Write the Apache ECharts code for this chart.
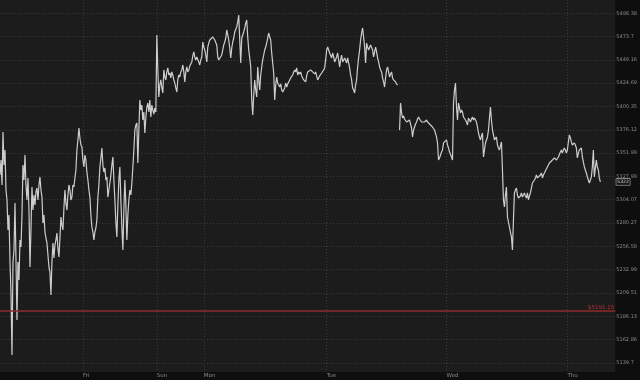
<!DOCTYPE html>
<html><head><meta charset="utf-8">
<script src="https://cdn.jsdelivr.net/npm/echarts@6/dist/echarts.min.js"></script>
<style>html,body{margin:0;padding:0;background:#0e0e0e}#c{width:640px;height:380px}</style>
</head><body><div id="c"></div>
<script>
// price per bar (one bar per sample), null = session gap
const prices = [
5329.4,5344.9,5319.2,5373.9,5339.7,5355.2,5314.0,5303.8,5273.2,5288.4,
5240.7,5209.4,5147.5,5240.7,5252.8,5300.7,5242.7,5182.3,5240.7,5222.5,
5263.0,5255.9,5288.4,5339.7,5324.3,5350.0,5319.2,5303.8,5326.4,5293.5,
5235.6,5273.2,5317.1,5293.5,5308.9,5298.6,5312.0,5316.1,5303.8,5319.2,
5327.4,5314.0,5306.8,5280.3,5288.4,5271.1,5265.0,5260.0,5247.8,5235.6,
5230.6,5207.4,5240.7,5260.0,5244.7,5257.9,5263.0,5270.1,5254.9,5245.8,
5265.0,5286.4,5278.3,5273.2,5295.6,5314.0,5300.7,5293.5,5308.9,5319.2,
5314.0,5303.8,5306.8,5319.2,5317.1,5326.4,5334.6,5355.2,5365.6,5378.0,
5367.6,5360.4,5358.3,5344.9,5337.7,5350.0,5344.9,5332.5,5324.3,5314.0,
5306.8,5288.4,5276.2,5271.1,5263.0,5271.1,5275.2,5283.3,5306.8,5319.2,
5337.7,5347.0,5357.3,5339.7,5332.5,5336.7,5324.3,5327.4,5306.8,5314.0,
5321.2,5329.4,5339.7,5348.0,5324.3,5303.8,5281.3,5266.1,5298.6,5324.3,
5337.7,5303.8,5276.2,5252.8,5293.5,5324.3,5298.6,5263.0,5288.4,5303.8,
5314.0,5308.9,5321.2,5337.7,5355.2,5375.9,5381.1,5383.2,5341.8,5375.9,
5407.1,5396.7,5401.9,5386.3,5394.6,5372.8,5388.4,5399.8,5404.0,5394.6,
5407.1,5389.4,5401.9,5396.7,5392.5,5398.8,5394.6,5475.4,5438.6,5410.3,
5422.8,5428.1,5419.7,5414.5,5438.6,5431.2,5428.1,5436.5,5440.7,5433.3,
5435.4,5430.2,5436.5,5433.3,5428.1,5424.9,5419.7,5415.5,5428.1,5433.3,
5431.2,5436.5,5438.6,5443.8,5436.5,5426.0,5436.5,5441.7,5436.5,5438.6,
5442.8,5444.9,5447.0,5453.3,5457.5,5452.2,5449.1,5452.2,5451.2,5447.0,
5443.8,5449.1,5452.2,5468.0,5462.7,5459.6,5454.3,5447.0,5462.7,5466.9,
5470.1,5472.2,5470.1,5473.3,5472.2,5470.1,5468.0,5464.9,5452.2,5449.1,
5447.0,5451.2,5454.3,5459.6,5464.9,5468.0,5472.2,5480.7,5475.4,5470.1,
5461.7,5451.2,5461.7,5468.0,5472.2,5478.6,5480.7,5483.9,5489.2,5496.6,
5470.1,5445.9,5472.2,5475.4,5478.6,5482.8,5488.1,5491.3,5473.3,5459.6,
5451.2,5441.7,5407.1,5391.5,5412.4,5428.1,5417.6,5410.3,5441.7,5428.1,
5417.6,5433.3,5441.7,5449.1,5454.3,5459.6,5462.7,5466.9,5472.2,5477.5,
5473.3,5470.1,5456.4,5445.9,5435.4,5407.1,5422.8,5431.2,5424.9,5422.8,
5420.7,5423.9,5417.6,5415.5,5414.5,5419.7,5424.9,5420.7,5423.9,5426.0,
5428.1,5430.2,5431.2,5433.3,5436.5,5438.6,5436.5,5440.7,5433.3,5436.5,
5434.4,5436.5,5432.3,5430.2,5428.1,5429.1,5426.0,5432.3,5436.5,5437.5,
5436.5,5438.6,5437.5,5436.5,5437.5,5434.4,5436.5,5432.3,5428.1,5430.2,
5432.3,5433.3,5435.4,5436.5,5438.6,5440.7,5449.1,5459.6,5462.7,5459.6,
5456.4,5454.3,5451.2,5456.4,5452.2,5447.0,5449.1,5452.2,5456.4,5449.1,
5441.7,5449.1,5454.3,5447.0,5449.1,5451.2,5449.1,5445.9,5451.2,5445.9,
5440.7,5433.3,5428.1,5419.7,5417.6,5414.5,5422.8,5428.1,5441.7,5451.2,
5459.6,5470.1,5477.5,5482.8,5473.3,5462.7,5445.9,5466.9,5462.7,5459.6,
5461.7,5464.9,5466.9,5459.6,5452.2,5457.5,5462.7,5457.5,5451.2,5447.0,
5441.7,5438.6,5436.5,5430.2,5426.0,5420.7,5430.2,5438.6,5441.7,5436.5,
5431.2,5434.4,5436.5,5430.2,5428.1,5427.0,5426.0,5423.9,5422.8,null,
5375.9,5404.0,5393.6,5388.4,5390.5,5387.3,5386.3,5384.2,5383.2,5385.3,
5386.3,5382.1,5378.0,5368.7,5375.9,5379.0,5382.1,5384.2,5387.3,5389.4,
5387.3,5385.3,5384.2,5383.2,5385.3,5384.2,5385.3,5386.3,5384.2,5383.2,
5382.1,5382.1,5381.1,5379.0,5378.0,5375.9,5373.9,5368.7,5362.5,5344.9,
5347.0,5350.0,5353.1,5355.2,5362.5,5363.5,5364.5,5365.6,5360.4,5357.3,
5353.1,5351.1,5348.0,5344.9,5404.0,5417.6,5424.9,5399.8,5386.3,5404.0,
5398.8,5393.6,5396.7,5394.6,5389.4,5388.4,5386.3,5384.2,5381.1,5388.4,
5386.3,5384.2,5387.3,5389.4,5386.3,5388.4,5389.4,5384.2,5379.0,5372.8,
5368.7,5365.6,5369.7,5372.8,5348.0,5355.2,5362.5,5365.6,5368.7,5375.9,
5388.4,5399.8,5386.3,5375.9,5370.8,5365.6,5367.6,5368.7,5360.4,5357.3,
5355.2,5359.4,5363.5,5334.6,5303.8,5296.6,5308.9,5317.1,5286.4,5281.3,
5276.2,5271.1,5266.1,5252.8,5283.3,5311.0,5314.0,5316.1,5308.9,5305.8,
5303.8,5307.9,5311.0,5306.8,5308.9,5311.0,5307.9,5305.8,5311.0,5303.8,
5307.9,5311.0,5316.1,5321.2,5322.3,5324.3,5326.4,5329.4,5326.4,5327.4,
5327.4,5329.4,5331.5,5326.4,5329.4,5331.5,5333.6,5334.6,5337.7,5339.7,
5341.8,5341.8,5342.8,5344.9,5345.9,5347.0,5345.9,5344.9,5345.9,5348.0,
5350.0,5353.1,5355.2,5352.0,5355.2,5357.3,5355.2,5352.0,5355.2,5363.5,
5370.8,5367.6,5363.5,5360.4,5361.4,5362.5,5360.4,5357.3,5347.0,5352.0,
5355.2,5356.2,5357.3,5348.0,5342.8,5337.7,5334.6,5331.5,5327.4,5324.3,
5321.2,5324.3,5327.4,5337.7,5355.2,5327.4,5336.7,5344.9,5337.7,5334.6,
5326.4,5322.3
];
const dayLabels = ['Fri', 'Sun', 'Mon', 'Tue', 'Wed', 'Thu'];
const dayStarts = [83, 157, 204, 327, 447, 568];   // bar index where each session starts
const priceTicks = ['5498.38','5473.7','5449.16','5424.69','5400.35','5376.12','5351.99','5327.99',
                    '5304.07','5280.27','5256.58','5232.99','5209.51','5186.13','5162.86','5139.7'];
const alertLevel = 5191.15;
const lastPriceText = '5322';
const priceRange = [5130.6, 5512.5];
const barRange = [0, 616];

const chart = echarts.init(document.getElementById('c'), null, {renderer: 'canvas'});
const tickVals = priceTicks.map(s => Math.log(parseFloat(s)));
function tickLabel(v) {
  let best = 0, bd = Infinity;
  tickVals.forEach((t, i) => { const d = Math.abs(t - v); if (d < bd) { bd = d; best = i; } });
  return priceTicks[best];
}
const seriesData = prices.map((p, i) => p == null ? [i, '-'] : [i, Math.log(p)]);
const lastPrice = prices[prices.length - 1];
const FONT = 'DejaVu Sans';

chart.setOption({
  animation: false,
  backgroundColor: '#0e0e0e',
  grid: { left: 0, right: 24, top: 0, bottom: 8, show: true, backgroundColor: '#1c1c1c', borderWidth: 0 },
  xAxis: {
    type: 'value', min: barRange[0], max: barRange[1],
    axisLine: { show: false },
    axisTick: { show: false, customValues: dayStarts },
    axisLabel: {
      customValues: dayStarts,
      formatter: v => dayLabels[dayStarts.indexOf(v)] || '',
      align: 'left', fontSize: 5.5, color: '#8a8a8a', margin: 1, fontFamily: FONT
    },
    splitLine: { show: true, lineStyle: { color: '#3a3a3a', type: [1, 2], width: 1 } }
  },
  yAxis: {
    type: 'value', position: 'right',
    min: Math.log(priceRange[0]), max: Math.log(priceRange[1]),
    axisLine: { show: false },
    axisTick: { show: true, inside: true, length: 3, customValues: tickVals, lineStyle: { color: '#5a5a5a' } },
    axisLabel: { customValues: tickVals, formatter: tickLabel, fontSize: 5, color: '#8a8a8a', margin: 1, fontFamily: FONT },
    splitLine: { show: true, lineStyle: { color: '#3a3a3a', type: [1, 2], width: 1 } }
  },
  series: [{
    type: 'line',
    data: seriesData,
    showSymbol: false,
    connectNulls: false,
    clip: false,
    silent: true,
    lineStyle: { color: '#cdcdcd', width: 1.2 },
    markLine: {
      silent: true, symbol: 'none', animation: false, precision: 12,
      data: [
        { yAxis: Math.log(alertLevel),
          lineStyle: { color: '#8e2a2c', width: 1.5, type: 'solid' },
          label: { position: 'insideEndTop', formatter: '$' + alertLevel.toFixed(2), color: '#c03038', fontSize: 5.5, distance: 1, fontFamily: FONT } },
        { yAxis: Math.log(lastPrice),
          lineStyle: { color: 'rgba(0,0,0,0)', width: 0 },
          label: { show: true, position: 'end', formatter: lastPriceText, color: '#d8d8d8', fontSize: 4.5, distance: 1,
                   backgroundColor: '#1a1a1a', borderColor: '#b5b5b5', borderWidth: 0.6, padding: [0.5, 1], fontFamily: FONT } }
      ]
    }
  }]
});
</script></body></html>
